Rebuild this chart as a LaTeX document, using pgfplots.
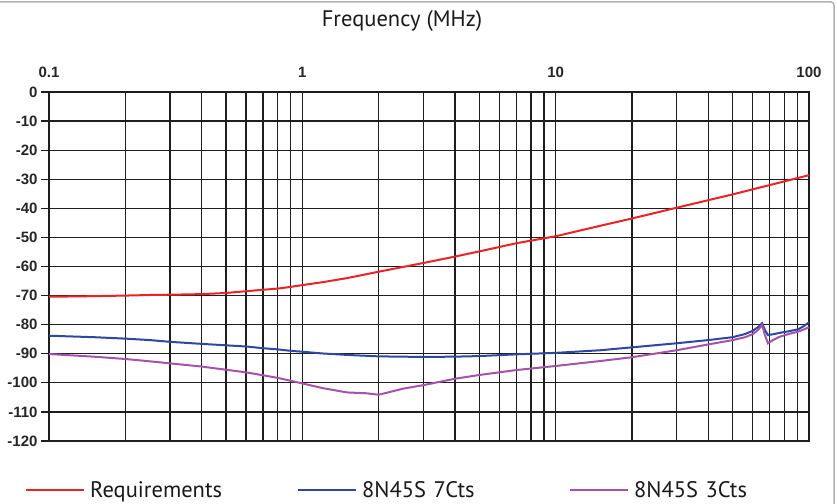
\documentclass[border=0pt]{standalone}
\usepackage{fontspec}
\setmainfont{PT Sans}
\newfontfamily\tickfont{Liberation Sans}
\usepackage{pgfplots}
\pgfplotsset{compat=1.18}
\definecolor{reqred}{RGB}{238,34,36}
\definecolor{ctsblue}{RGB}{44,72,160}
\definecolor{ctspurple}{RGB}{165,82,170}
\definecolor{gridblack}{RGB}{30,30,30}

\begin{document}
\begin{tikzpicture}
\path[use as bounding box] (-49bp,-63bp) rectangle (788bp,441bp);
\draw[gray!60, line width=1.5bp, rounded corners=3bp] (-49bp,439bp) -- (785bp,439bp) -- (785bp,-63bp);
\begin{axis}[
  name=ax, anchor=south west, at={(0,0)},
  scale only axis, width=760bp, height=349bp,
  xmode=log, xmin=0.1, xmax=100, ymin=-120, ymax=0,
  xtick={0.1,1,10,100}, xticklabels={0.1,1,10,100},
  minor xtick={0.2,0.3,0.4,0.5,0.6,0.7,0.8,0.9,2,3,4,5,6,7,8,9,20,30,40,50,60,70,80,90},
  xticklabel pos=upper,
  ytick={0,-10,-20,-30,-40,-50,-60,-70,-80,-90,-100,-110,-120},
  yticklabels={0,-10,-20,-30,-40,-50,-60,-70,-80,-90,-100,-110,-120},
  ytick pos=left,
  grid=both,
  major grid style={gridblack, line width=1.3bp},
  minor grid style={gridblack, line width=1.3bp},
  axis line style={gridblack, line width=1.3bp},
  x tick style={draw=none}, minor x tick style={draw=none},
  y tick style={gridblack, line width=1.3bp},
  tick align=outside, major tick length=8bp,
  xticklabel style={font=\tickfont\bfseries\fontsize{15bp}{18bp}\selectfont, text=black!85, anchor=base, yshift=6bp},
  yticklabel style={font=\tickfont\bfseries\fontsize{15bp}{18bp}\selectfont, text=black!85},
  title={Frequency (MHz)},
  title style={at={(0.4645,1.186)}, anchor=center, font=\fontsize{22.5bp}{26bp}\selectfont, text=black!90},
  legend columns=3,
  legend cell align=left,
  legend image code/.code={\draw[#1] (0bp,0bp) -- (58bp,0bp);},
  legend style={at={(-0.0316,-0.141)}, anchor=west, draw=none, fill=none, inner sep=0pt,
    column sep=0pt, font=\fontsize{22.5bp}{26bp}\selectfont, text=black!90,
    nodes={inner xsep=5bp, text width=202bp}},
]
\addplot[reqred, line width=2bp] coordinates {
 (0.1,-70.4) (0.15,-70.2) (0.2,-70.0) (0.25,-69.8) (0.3,-69.7) (0.4,-69.5)
 (0.5,-69.1) (0.6,-68.5) (0.7,-68.0) (0.8,-67.6) (0.9,-67.0) (1,-66.4)
 (1.2,-65.4) (1.5,-64.0) (2,-61.8) (3,-58.8) (4,-56.6) (5,-54.8) (7,-52.0)
 (10,-49.6) (15,-46.0) (20,-43.5) (30,-39.8) (40,-37.2) (50,-35.2) (70,-32.0) (100,-28.6)};
\addlegendentry{Requirements}
\addplot[ctsblue, line width=2bp] coordinates {
 (0.1,-83.8) (0.15,-84.3) (0.2,-84.8) (0.25,-85.3) (0.3,-85.9) (0.4,-86.6)
 (0.5,-87.1) (0.6,-87.5) (0.7,-88.1) (0.8,-88.5) (0.9,-89.0) (1,-89.3)
 (1.2,-89.9) (1.5,-90.4) (2,-90.9) (3,-91.1) (4,-91.0) (5,-90.8) (7,-90.2)
 (10,-89.7) (15,-88.8) (20,-87.8) (30,-86.4) (40,-85.3) (50,-84.3) (56,-83.2)
 (60,-82.1) (63,-80.8) (65.3,-79.5) (67,-81.8) (68.9,-83.6) (72,-83.3) (76.9,-82.8)
 (84,-82.2) (90.6,-81.6) (95,-80.6) (100,-79.2)};
\addlegendentry{8N45S 7Cts}
\addplot[ctspurple, line width=2bp] coordinates {
 (0.1,-90.1) (0.15,-91.0) (0.2,-91.8) (0.25,-92.6) (0.3,-93.3) (0.4,-94.4)
 (0.5,-95.5) (0.6,-96.4) (0.7,-97.4) (0.8,-98.3) (0.9,-99.3) (1,-100.2)
 (1.2,-101.8) (1.5,-103.3) (1.8,-103.6) (2,-104.1) (2.2,-103.2) (2.5,-102.0)
 (3,-100.8) (4,-98.6) (5,-97.3) (7,-95.6) (10,-94.2) (15,-92.5) (20,-91.2)
 (30,-88.8) (40,-86.8) (50,-85.3) (56,-84.3) (60.1,-83.2) (63,-81.8) (65.3,-80.1)
 (67,-83.6) (68.9,-86.4) (72,-85.3) (76.9,-84.1) (84,-83.1) (90.6,-82.4) (95,-81.7) (100,-80.9)};
\addlegendentry{8N45S 3Cts}
\end{axis}
\end{tikzpicture}
\end{document}
